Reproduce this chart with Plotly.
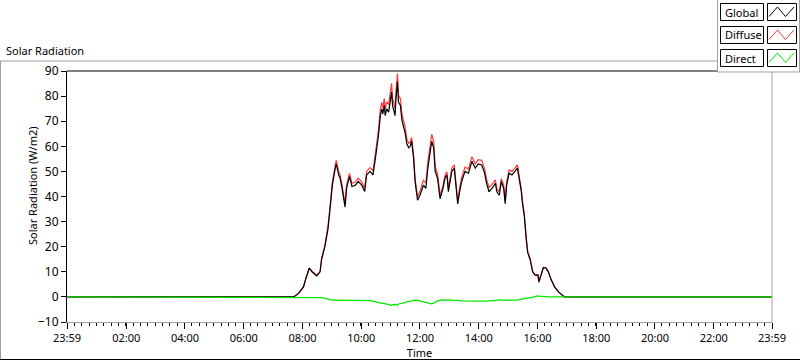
import plotly.graph_objects as go

# ---------------- data ----------------
times = ["00:00", "07:42", "07:52", "08:02", "08:07", "08:11", "08:14", "08:19", "08:25", "08:29",
         "08:36", "08:39", "08:46", "08:52", "08:57", "09:01", "09:07", "09:09", "09:14", "09:17",
         "09:21", "09:24", "09:27", "09:30", "09:36", "09:41", "09:48", "09:54", "10:01", "10:07",
         "10:11", "10:18", "10:24", "10:29", "10:35", "10:39", "10:42", "10:44", "10:47", "10:49",
         "10:52", "10:56", "10:59", "11:02", "11:04", "11:07", "11:09", "11:11", "11:14", "11:16",
         "11:20", "11:23", "11:26", "11:30", "11:33", "11:37", "11:40", "11:43", "11:47", "11:50",
         "11:55", "12:00", "12:07", "12:12", "12:16", "12:21", "12:24", "12:28", "12:31", "12:36",
         "12:41", "12:47", "12:51", "12:55", "12:58", "13:02", "13:05", "13:10", "13:14", "13:17",
         "13:21", "13:25", "13:32", "13:39", "13:46", "13:53", "13:59", "14:06", "14:12", "14:16",
         "14:21", "14:27", "14:34", "14:37", "14:42", "14:46", "14:51", "14:54", "14:57", "15:02",
         "15:08", "15:14", "15:19", "15:23", "15:27", "15:29", "15:33", "15:37", "15:40", "15:45",
         "15:50", "15:55", "16:01", "16:03", "16:08", "16:12", "16:17", "16:22", "16:28", "16:35",
         "16:43", "16:50", "16:55", "23:59"]

global_rad = [0, 0, 1.4, 4.0, 7.4, 10.1, 11.5, 10.1, 9.0, 8.4,
              10.0, 14.9, 20.2, 27.0, 36.4, 44.5, 51.3, 53.0, 48.6, 47.2,
              43.0, 39.1, 35.8, 43.2, 48.0, 44.0, 44.5, 46.0, 44.5, 42.0,
              48.6, 50.0, 48.6, 55.3, 64.0, 72.2, 74.9, 72.9, 76.3, 72.2,
              74.9, 73.6, 77.6, 81.7, 76.3, 73.6, 72.2, 79.0, 85.7, 77.6,
              76.3, 70.5, 68.2, 65.0, 61.0, 59.4, 60.0, 62.0, 55.0, 45.9,
              38.5, 40.5, 44.5, 43.2, 51.3, 58.0, 62.0, 59.4, 50.0, 47.2,
              39.1, 43.2, 47.2, 48.6, 41.9, 46.6, 50.0, 51.3, 42.5, 37.1,
              41.9, 45.9, 50.0, 49.3, 54.0, 51.3, 53.0, 52.6, 49.3, 45.2,
              41.9, 43.2, 45.2, 41.9, 40.5, 45.9, 43.2, 37.1, 44.5, 49.3,
              48.6, 50.0, 51.3, 46.6, 42.0, 37.8, 32.4, 23.0, 17.6, 14.9,
              10.1, 8.8, 8.8, 6.1, 9.5, 11.7, 11.5, 10.1, 6.8, 4.0,
              2.0, 0.7, 0, 0]

diffuse_rad = [0, 0, 1.4, 4.0, 7.4, 10.1, 11.5, 10.2, 9.1, 8.6,
               10.2, 15.2, 20.8, 28.0, 37.6, 45.8, 52.5, 54.4, 49.9, 48.5,
               44.2, 40.5, 37.1, 44.5, 49.2, 45.3, 45.8, 47.3, 45.8, 43.4,
               50.0, 51.5, 50.3, 57.3, 66.3, 74.6, 77.5, 75.4, 79.0, 74.8,
               77.7, 76.6, 80.8, 85.1, 79.3, 76.9, 75.1, 82.1, 89.0, 80.4,
               79.0, 73.1, 70.7, 67.3, 63.0, 61.2, 61.6, 63.5, 56.4, 47.2,
               39.9, 42.1, 46.4, 45.4, 53.8, 60.7, 64.8, 61.9, 52.0, 48.8,
               40.4, 44.4, 48.5, 49.8, 43.3, 47.8, 51.3, 52.6, 43.9, 38.4,
               43.4, 47.5, 51.7, 51.0, 55.8, 53.0, 54.7, 54.4, 51.0, 46.9,
               43.5, 44.7, 46.6, 43.2, 41.8, 47.1, 44.6, 38.3, 45.8, 50.6,
               50.0, 51.3, 52.6, 47.7, 42.9, 38.6, 33.1, 23.6, 18.1, 15.2,
               10.2, 8.6, 8.4, 5.8, 9.3, 11.7, 11.6, 10.1, 6.8, 4.0,
               2.0, 0.7, 0, 0]

direct_rad = [0, 0, 0, 0, 0, 0, 0, -0.1, -0.1, -0.2,
              -0.2, -0.3, -0.6, -1.0, -1.2, -1.3, -1.2, -1.4, -1.3, -1.3,
              -1.2, -1.4, -1.3, -1.3, -1.2, -1.3, -1.3, -1.3, -1.3, -1.4,
              -1.4, -1.5, -1.7, -2.0, -2.3, -2.4, -2.6, -2.5, -2.7, -2.6,
              -2.8, -3.0, -3.2, -3.4, -3.0, -3.3, -2.9, -3.1, -3.3, -2.8,
              -2.7, -2.6, -2.5, -2.3, -2.0, -1.8, -1.6, -1.5, -1.4, -1.3,
              -1.4, -1.6, -1.9, -2.2, -2.5, -2.7, -2.8, -2.5, -2.0, -1.6,
              -1.3, -1.2, -1.3, -1.2, -1.4, -1.2, -1.3, -1.3, -1.4, -1.3,
              -1.5, -1.6, -1.7, -1.7, -1.8, -1.7, -1.7, -1.8, -1.7, -1.7,
              -1.6, -1.5, -1.4, -1.3, -1.3, -1.2, -1.4, -1.2, -1.3, -1.3,
              -1.4, -1.3, -1.3, -1.1, -0.9, -0.8, -0.7, -0.6, -0.5, -0.3,
              -0.1, 0.2, 0.4, 0.3, 0.2, 0.0, -0.1, 0, 0, 0,
              0, 0, 0, 0]

series_names = ["Global", "Diffuse", "Direct"]
series_colors = ["#000000", "#ff3a3a", "#00e600"]

x_ticktext = ["23:59", "02:00", "04:00", "06:00", "08:00", "10:00", "12:00",
              "14:00", "16:00", "18:00", "20:00", "22:00", "23:59"]
y_ticks = [-10, 0, 10, 20, 30, 40, 50, 60, 70, 80, 90]


def to_hours(t):
    h, m = t.split(":")
    return int(h) + int(m) / 60.0


x_hours = [to_hours(t) for t in times]
x_tickvals = [to_hours(t) - (24 if i == 0 else 0) for i, t in enumerate(x_ticktext)]

# ---------------- geometry helpers (pixel -> paper) ----------------
W, H = 800, 361
L, R, T, B = 67, 28, 71, 39
PW, PH = W - L - R, H - T - B


def X(px):
    return (px - L) / PW


def Y(py):
    return (H - B - py) / PH


FONT = "Noto Sans"

fig = go.Figure()
fig.add_trace(go.Scatter(x=x_hours, y=diffuse_rad, mode="lines", name="Diffuse",
                         line=dict(color=series_colors[1], width=1.2), showlegend=False))
fig.add_trace(go.Scatter(x=x_hours, y=global_rad, mode="lines", name="Global",
                         line=dict(color=series_colors[0], width=1.2), showlegend=False))
fig.add_trace(go.Scatter(x=x_hours, y=direct_rad, mode="lines", name="Direct",
                         line=dict(color=series_colors[2], width=1.2), showlegend=False))

shapes = []
line_gray = "#a0a0a0"
# outer frame
shapes.append(dict(type="line", xref="paper", yref="paper", x0=X(0.5), x1=X(0.5), y0=Y(61), y1=Y(360),
                   line=dict(color=line_gray, width=1)))
shapes.append(dict(type="line", xref="paper", yref="paper", x0=X(0), x1=X(717), y0=Y(61), y1=Y(61),
                   line=dict(color=line_gray, width=1)))
shapes.append(dict(type="line", xref="paper", yref="paper", x0=X(0), x1=X(800), y0=Y(359.5), y1=Y(359.5),
                   line=dict(color="#000000", width=1)))
# plot area borders (top black, right gray)
shapes.append(dict(type="line", xref="paper", yref="paper", x0=X(67), x1=X(717), y0=Y(71), y1=Y(71),
                   line=dict(color="#000000", width=1)))
shapes.append(dict(type="line", xref="paper", yref="paper", x0=X(772), x1=X(772), y0=Y(72), y1=Y(322),
                   line=dict(color=line_gray, width=1)))
# legend box
shapes.append(dict(type="rect", xref="paper", yref="paper", x0=X(717.5), x1=X(799.5), y0=Y(-1), y1=Y(72),
                   line=dict(color=line_gray, width=1), fillcolor="#ffffff", layer="above"))

annotations = [
    dict(text="Solar Radiation", xref="paper", yref="paper", x=X(4), y=Y(50),
         xanchor="left", yanchor="middle", showarrow=False,
         font=dict(family=FONT, size=11, color="#000000")),
    dict(text="Solar Radiation (W/m2)", xref="paper", yref="paper", x=X(32), y=Y(186),
         xanchor="center", yanchor="middle", showarrow=False, textangle=-90,
         font=dict(family=FONT, size=11, color="#000000")),
]

box_tops = [3.5, 26.5, 49.5]
for name, color, top in zip(series_names, series_colors, box_tops):
    bot = top + 17
    shapes.append(dict(type="rect", xref="paper", yref="paper", x0=X(720.5), x1=X(763.5),
                       y0=Y(bot), y1=Y(top), line=dict(color="#000000", width=1),
                       fillcolor="#ffffff", layer="above"))
    shapes.append(dict(type="rect", xref="paper", yref="paper", x0=X(767.5), x1=X(796.5),
                       y0=Y(bot), y1=Y(top), line=dict(color="#000000", width=1),
                       fillcolor="#ffffff", layer="above"))
    pts = [(769, bot - 4), (777.5, top + 3.5), (785.5, bot - 4), (794, top + 3.5)]
    path = "M " + " L ".join(f"{X(a)},{Y(b)}" for a, b in pts)
    shapes.append(dict(type="path", xref="paper", yref="paper", path=path,
                       line=dict(color=color, width=1), layer="above"))
    annotations.append(dict(text=name, xref="paper", yref="paper", x=X(722.5), y=Y((top + bot) / 2),
                            xanchor="left", yanchor="middle", showarrow=False,
                            font=dict(family=FONT, size=11, color="#000000")))

fig.update_layout(
    width=W, height=H,
    margin=dict(l=L, r=R, t=T, b=B, pad=0),
    paper_bgcolor="#ffffff", plot_bgcolor="#ffffff",
    font=dict(family=FONT, size=11, color="#000000"),
    shapes=shapes, annotations=annotations,
    showlegend=False,
)
fig.update_xaxes(
    range=[x_tickvals[0], x_tickvals[-1]], tickmode="array", tickvals=x_tickvals, ticktext=x_ticktext,
    ticks="outside", ticklen=6, tickwidth=1, tickcolor="#000000",
    showline=True, linecolor=line_gray, linewidth=1, showgrid=False, zeroline=False,
    minor=dict(ticks="outside", ticklen=3, tickcolor="#000000", tick0=x_tickvals[0], dtick=0.25, showgrid=False),
    title=dict(text="Time", standoff=2, font=dict(family=FONT, size=11)),
    tickfont=dict(family=FONT, size=11), automargin=False,
)
fig.update_yaxes(
    range=[-10, 90], tickmode="array", tickvals=y_ticks,
    ticks="outside", ticklen=5, tickwidth=1, tickcolor="#000000",
    showline=True, linecolor="#000000", linewidth=1, showgrid=False, zeroline=False,
    tickfont=dict(family=FONT, size=12), automargin=False,
)

fig.write_html("out.html", config={"displayModeBar": False},
               post_script="document.body.style.margin='0px';document.body.style.overflow='hidden';")
